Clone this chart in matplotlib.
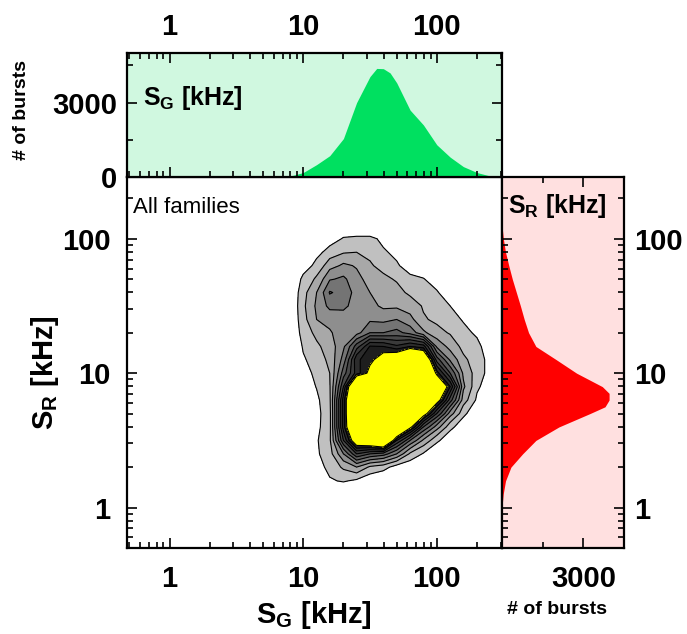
import numpy as np
import matplotlib
matplotlib.use('Agg')
import matplotlib.pyplot as plt
from matplotlib.ticker import MultipleLocator, LogLocator, NullFormatter

plt.rcParams['font.family'] = ['Liberation Sans', 'DejaVu Sans']
plt.rcParams['font.weight'] = 'bold'
plt.rcParams['mathtext.fontset'] = 'custom'
plt.rcParams['mathtext.rm'] = 'Liberation Sans:bold'
plt.rcParams['mathtext.it'] = 'Liberation Sans:bold'
plt.rcParams['mathtext.bf'] = 'Liberation Sans:bold'

# 2D burst density, rows = S_R, columns = S_G
sg_grid = [7.94, 10, 12.6, 15.8, 20, 25.1, 31.6, 39.8, 50.1, 63.1, 79.4, 100, 126, 158, 200, 251]
sr_grid = [1.26, 1.58, 2.0, 2.51, 3.16, 3.98, 5.01, 6.31, 7.94, 10, 12.6,
           15.8, 20, 25.1, 31.6, 39.8, 50.1, 63.1, 79.4, 100, 126]
density = [
    [0, 0, 0,    0,    0,   0,   0,   0,    0,   0,   0,   0,    0,   0,   0,   0],
    [0, 0, 0.1,  0.9,  1.1, 0.8, 0.3, 0,    0,   0,   0,   0,    0,   0,   0,   0],
    [0, 0, 0.6,  1.3,  2.2, 3.0, 1.8, 1.4,  0.5, 0.3, 0,   0,    0,   0,   0,   0],
    [0, 0, 0.85, 1.6,  4.0, 7.0, 6.0, 5.5,  4.0, 1.8, 0.9, 0.2,  0,   0,   0,   0],
    [0, 0, 0.9,  1.8,  7.0, 12,  13,  15,   8.0, 5.0, 2.8, 1.2,  0.3, 0,   0,   0],
    [0, 0, 0.75, 1.7,  8.5, 15,  18,  20,   16,  10.5, 6.0, 3.5, 1.3, 0.3, 0,   0],
    [0, 0, 0.7,  1.7,  8.5, 16,  20,  21,   20,  15,  11,  7.0,  3.5, 1.3, 0,   0],
    [0, 0, 0.8,  1.8,  8.5, 16,  20,  21,   22,  19,  16,  11,   6.5, 2.5, 0.8, 0],
    [0, 0.4, 1.05, 1.9, 7.0, 15, 18,  20,   21,  20,  17,  13,   9.0, 3.2, 1.2, 0.3],
    [0, 0.7, 1.2, 2.0,  5.5, 8.5, 10.5, 16,  18,  19,  15,  9.5,  6.0, 2.8, 1.5, 0.6],
    [0, 0.9, 1.4, 2.3,  4.4, 8.8, 9.6, 11,   12,  15,  13,  6.5,  3.8, 2.2, 1.5, 0.6],
    [0, 1.1, 1.8, 2.5,  3.8, 6.5, 9.1, 9.0,  8.2, 9.0, 8.5, 3.8,  2.6, 1.7, 1.3, 0.3],
    [0, 1.43, 2.3, 2.9, 3.5, 3.6, 5.0, 5.0,  5.3, 4.6, 3.2, 2.3,  1.9, 1.3, 0.8, 0],
    [0, 1.67, 3.0, 3.3, 3.6, 3.5, 3.8, 3.7,  4.0, 3.3, 2.1, 1.8,  1.4, 0.9, 0,   0],
    [0, 1.8, 3.2, 4.3,  4.2, 3.6, 3.3, 2.8,  2.8, 2.5, 1.9, 1.3,  1.0, 0,   0,   0],
    [0, 1.67, 3.0, 5.1, 4.6, 3.6, 3.0, 2.5,  2.3, 1.8, 1.5, 1.1,  0.3, 0,   0,   0],
    [0, 1.25, 2.2, 3.9, 4.2, 3.3, 2.6, 2.2,  1.9, 1.2, 1.05, 0.5, 0,   0,   0,   0],
    [0, 0.5, 1.3, 2.6,  3.2, 2.9, 2.1, 1.7,  1.1, 0.6, 0.3, 0,    0,   0,   0,   0],
    [0, 0,   0.7, 1.4,  1.9, 2.0, 1.8, 1.1,  0.8, 0.2, 0,   0,    0,   0,   0,   0],
    [0, 0,   0,   0.5,  1.1, 1.2, 1.2, 0.8,  0.2, 0,   0,   0,    0,   0,   0,   0],
    [0, 0,   0,   0,    0,   0,   0,   0,    0,   0,   0,   0,    0,   0,   0,   0],
]
levels = [1, 2, 3, 4, 5, 6, 7, 8, 9, 10, 100]
band_colors = ['#c0c0c0', '#a8a8a8', '#8e8e8e', '#747474', '#5c5c5c',
               '#4a4a4a', '#3a3a3a', '#2c2c2c', '#1e1e1e', '#ffff00']

# 1D histograms
sg_hist_khz = [6.3, 7.9, 10, 12.6, 15.8, 20, 25.1, 31.6, 35.5, 39.8, 44.7,
               50.1, 63.1, 79.4, 100, 126, 158, 200, 251, 316]
sg_hist_counts = [0, 30, 180, 500, 860, 1550, 3000, 4050, 4380, 4370, 4200,
                  3800, 2700, 2100, 1300, 800, 420, 180, 40, 0]
sr_hist_khz = [1.0, 1.26, 1.58, 2.0, 2.51, 3.16, 3.98, 5.01, 5.62, 6.31, 7.08,
               7.94, 10, 12.6, 15.8, 20, 25.1, 31.6, 39.8, 50.1, 63.1, 79.4, 100, 126]
sr_hist_counts = [0, 45, 130, 330, 760, 1250, 2100, 3250, 3800, 3950, 3950,
                  3700, 2750, 2000, 1250, 980, 820, 680, 530, 380, 250, 130, 50, 0]

xlim = (0.48, 308)
ylim = (0.5, 288)

fig = plt.figure(figsize=(6.87, 6.34), dpi=100)
ax = fig.add_axes([0.1849, 0.1356, 0.5459, 0.5852])
ax_top = fig.add_axes([0.1849, 0.7208, 0.5459, 0.1955])
ax_right = fig.add_axes([0.7307, 0.1356, 0.1776, 0.5852])

# main contour plot
ax.contourf(sg_grid, sr_grid, density, levels=levels, colors=band_colors)
ax.contour(sg_grid, sr_grid, density, levels=levels[:-1], colors='k', linewidths=0.8)
ax.set_xscale('log')
ax.set_yscale('log')
ax.set_xlim(xlim)
ax.set_ylim(ylim)
ax.set_xticks([1, 10, 100], labels=['1', '10', '100'])
ax.set_yticks([1, 10, 100], labels=['1', '10', '100'])
ax.xaxis.set_minor_locator(LogLocator(base=10, subs=np.arange(2, 10)))
ax.yaxis.set_minor_locator(LogLocator(base=10, subs=np.arange(2, 10)))
ax.xaxis.set_minor_formatter(NullFormatter())
ax.yaxis.set_minor_formatter(NullFormatter())
ax.tick_params(which='both', direction='in', top=False, right=False, width=1.2, labelsize=21)
ax.tick_params(which='major', length=7, pad=12)
ax.tick_params(which='minor', length=4)
ax.text(0.016, 0.919, 'All families', transform=ax.transAxes, fontsize=16,
        fontweight='normal', ha='left', va='center')

# top histogram (S_G)
ax_top.set_facecolor('#d0f8e0')
ax_top.fill_between(sg_hist_khz, sg_hist_counts, color='#00e060', lw=0)
ax_top.set_xscale('log')
ax_top.set_xlim(xlim)
ax_top.set_ylim(0, 5000)
ax_top.set_xticks([1, 10, 100], labels=['1', '10', '100'])
ax_top.xaxis.set_minor_locator(LogLocator(base=10, subs=np.arange(2, 10)))
ax_top.xaxis.set_minor_formatter(NullFormatter())
ax_top.set_yticks([0, 3000], labels=['0', '3000'])
ax_top.yaxis.set_minor_locator(MultipleLocator(1500))
ax_top.tick_params(which='both', direction='in', top=True, bottom=True, left=True, right=True,
                   labeltop=True, labelbottom=False, width=1.2, labelsize=21)
ax_top.tick_params(which='major', length=7)
ax_top.tick_params(which='minor', length=4)
ax_top.tick_params(axis='x', pad=9)
ax_top.tick_params(axis='y', pad=7)
ax_top.text(0.043, 0.64, r'$\mathregular{S_G}$ [kHz]', transform=ax_top.transAxes,
            fontsize=18, ha='left', va='center')

# right histogram (S_R)
ax_right.set_facecolor('#ffe0e0')
ax_right.fill_betweenx(sr_hist_khz, sr_hist_counts, color='#ff0000', lw=0)
ax_right.set_yscale('log')
ax_right.set_ylim(ylim)
ax_right.set_xlim(0, 4500)
ax_right.set_yticks([1, 10, 100], labels=['1', '10', '100'])
ax_right.yaxis.set_minor_locator(LogLocator(base=10, subs=np.arange(2, 10)))
ax_right.yaxis.set_minor_formatter(NullFormatter())
ax_right.set_xticks([3000], labels=['3000'])
ax_right.xaxis.set_minor_locator(MultipleLocator(1500))
ax_right.tick_params(which='both', direction='in', top=True, bottom=True, left=True, right=True,
                     labelleft=False, labelright=True, width=1.2, labelsize=21)
ax_right.tick_params(which='major', length=7)
ax_right.tick_params(which='minor', length=4)
ax_right.tick_params(axis='x', pad=12)
ax_right.tick_params(axis='y', pad=7)
ax_right.text(0.05, 0.922, r'$\mathregular{S_R}$ [kHz]', transform=ax_right.transAxes,
              fontsize=18, ha='left', va='center')

for a in (ax, ax_top, ax_right):
    for s in a.spines.values():
        s.set_linewidth(1.6)

# axis titles
fig.text(0.457, 0.030, r'$\mathregular{S_G}$ [kHz]', fontsize=21, ha='center', va='center')
fig.text(0.066, 0.413, r'$\mathregular{S_R}$ [kHz]', fontsize=21, ha='center', va='center',
         rotation=90)
fig.text(0.032, 0.826, '# of bursts', fontsize=14, ha='center', va='center', rotation=90)
fig.text(0.811, 0.038, '# of bursts', fontsize=14, ha='center', va='center')

fig.savefig('out.png', dpi=100)
